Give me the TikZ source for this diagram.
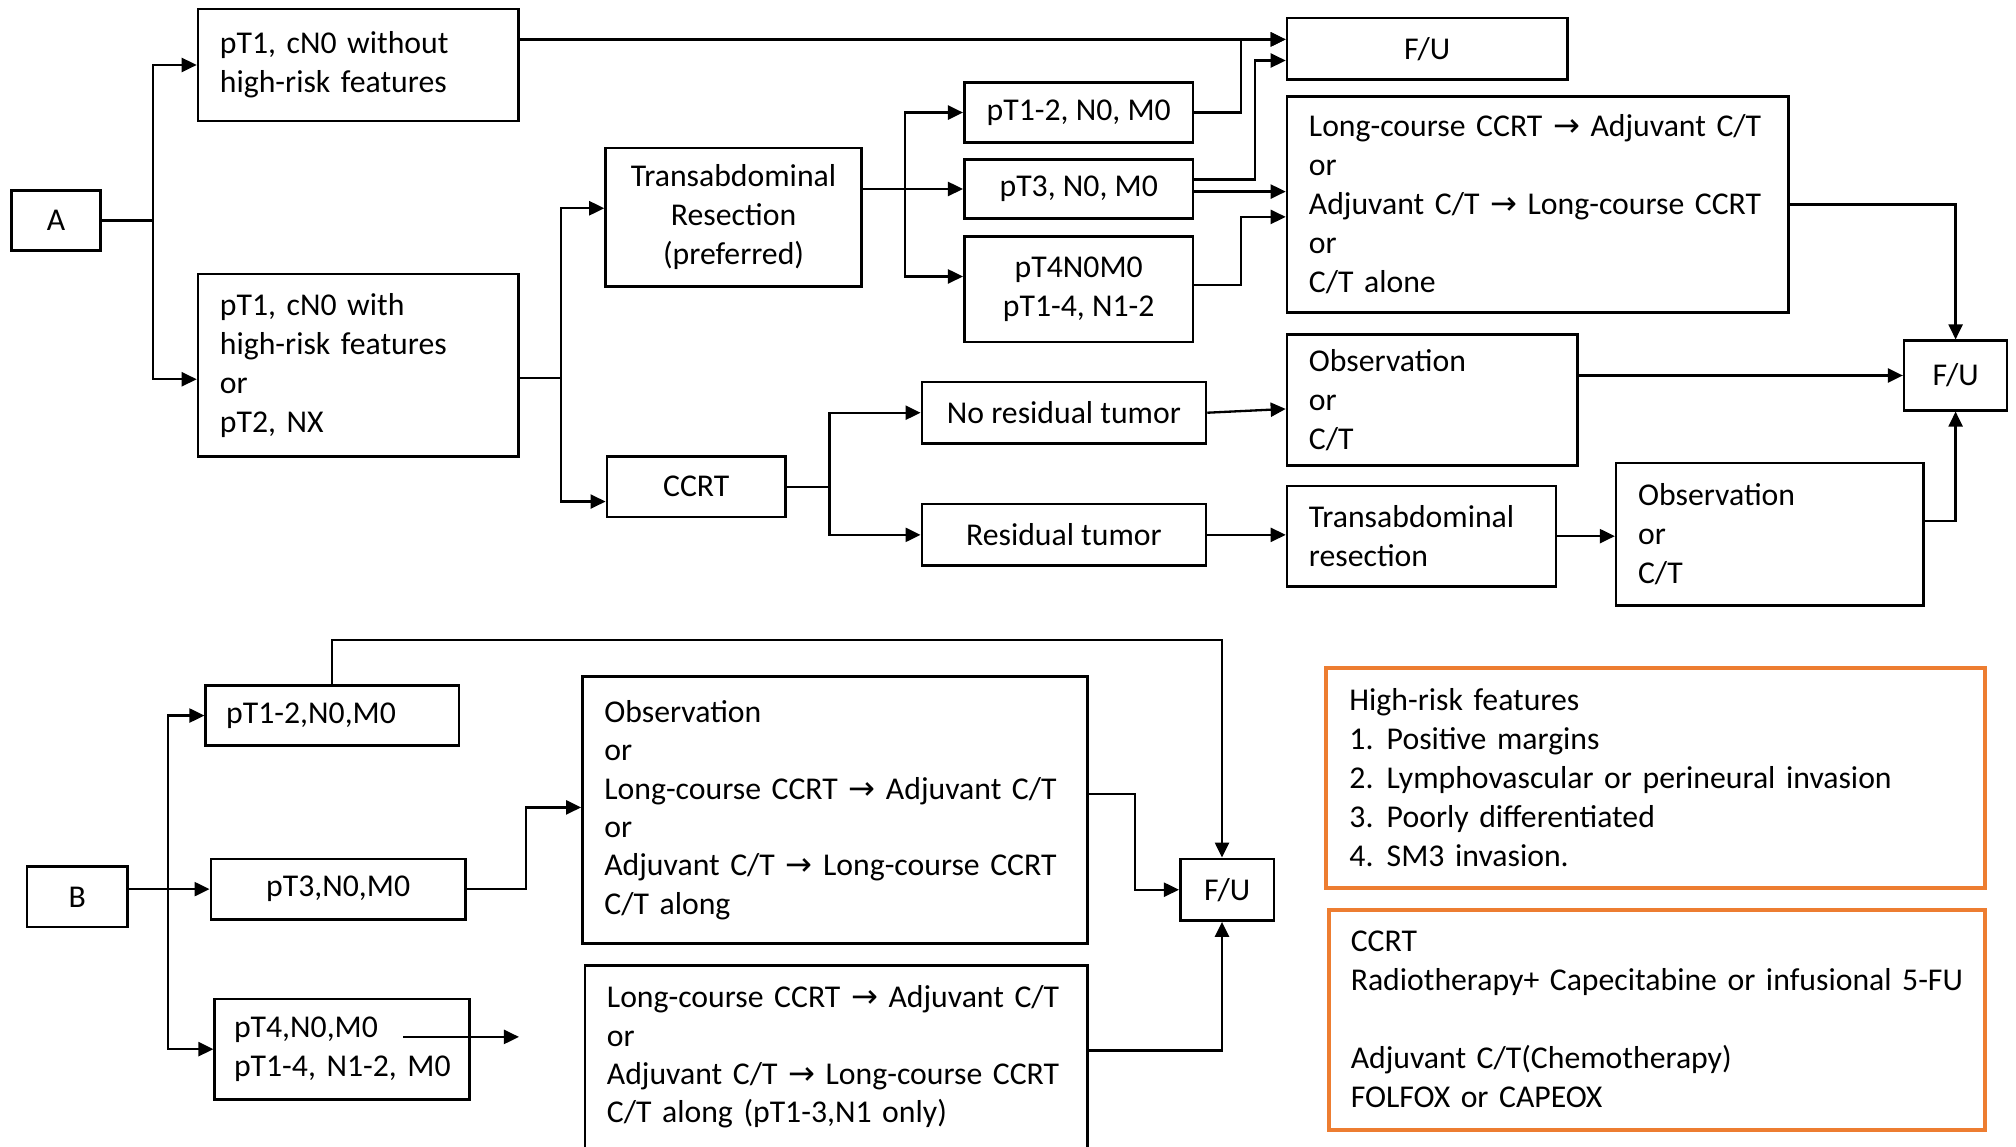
\documentclass[tikz,border=0pt]{standalone}
\usepackage{fontspec}
\setmainfont{Carlito}
\newfontfamily\arrowfont{DejaVu Sans}
\newcommand{\thn}{{\arrowfont\fontsize{16}{16}\selectfont →}}
\usepackage{tikz}
\usetikzlibrary{arrows.meta, positioning}
\definecolor{colorNote}{RGB}{237,125,49}
\tikzset{box font/.style={font=\fontsize{15.8}{19.4}\selectfont}}

\begin{document}
\begin{tikzpicture}[x=0.64pt, y=-0.64pt, line width=1.15pt, >={Triangle[length=7.5pt, width=7pt]},
  box/.style={draw, line width=1.3pt, box font, anchor=north west, inner ysep=0pt, align=center},
  lbox/.style={box, align=left, inner xsep=10.9pt},
  note/.style={lbox, draw=colorNote, line width=2pt}]
\useasboundingbox (0,0) rectangle (1568,892);
\fill[white] (0,0) rectangle (1568,892);

% A
\node[box, minimum width=44.2pt, minimum height=30.1pt] (A) at (8,147) {A};
\node[lbox, text width=137.6pt, minimum height=55.7pt] (p1) at (153,6) {pT1, cN0 without\\high-risk features};
\node[lbox, text width=137.6pt, minimum height=90.9pt] (p2) at (153,212) {pT1, cN0 with\\high-risk features\\or\\pT2, NX};
\node[box, minimum width=127.4pt, minimum height=69.1pt] (tr) at (470,114) {Transabdominal\\Resection\\(preferred)};
\node[box, minimum width=89pt, minimum height=30.1pt] (ccrt) at (471,354) {CCRT};
\node[box, minimum width=113.9pt, minimum height=30.1pt] (s12) at (749,63) {pT1-2, N0, M0};
\node[box, minimum width=113.9pt, minimum height=29.4pt, below=7pt of s12] (s3) {pT3, N0, M0};
\node[box, minimum width=113.9pt, minimum height=52.5pt, below=7.7pt of s3] (s4) {pT4N0M0\\pT1-4, N1-2};
\node[box, minimum width=139.5pt, minimum height=30.7pt] (fu1) at (1000,13) {F/U};
\node[lbox, text width=227.8pt, minimum height=107.5pt] (lc) at (1000,74) {\mbox{Long-course CCRT \thn{} Adjuvant C/T}\\or\\\mbox{Adjuvant C/T \thn{} Long-course CCRT}\\or\\C/T alone};
\node[box, minimum width=141.4pt, minimum height=30.7pt] (nores) at (716,296) {No residual tumor};
\node[box, minimum width=141.4pt, minimum height=30.7pt, below=28.8pt of nores] (res) {Residual tumor};
\node[lbox, text width=122.9pt, minimum height=65.3pt] (obs1) at (1000,259) {Observation\\or\\C/T};
\node[lbox, text width=112pt, minimum height=49.9pt] (trr) at (1000,377) {Transabdominal\\resection};
\node[lbox, text width=131.2pt, minimum height=71pt] (obs2) at (1256,359) {Observation\\or\\C/T};
\node[box, minimum width=51.2pt, minimum height=34.6pt] (fu2) at (1480,264) {F/U};

\draw[->] (A.east) -- ++(40,0) coordinate (f1) |- (p1.west);
\draw[->] (f1) |- ([yshift=-7pt]p2.west);
\coordinate (fuA) at ([yshift=4.7pt]fu1.west);
\draw[->] (p1.east |- fuA) -- (fuA);
\draw ([yshift=-6.4pt]p2.east) -- ++(32,0) coordinate (f2);
\draw[->] (f2) |- ([yshift=4.5pt]tr.west);
\draw[->] (f2) |- ([yshift=-7.4pt]ccrt.west);
\draw[->] (tr.east |- s3.west) -- (s3.west);
\path (tr.east |- s3.west) ++(33,0) coordinate (f3);
\draw[->] (f3) |- (s12.west);
\draw[->] (f3) |- ([yshift=6.4pt]s4.west);
\draw[->] (s12.east) -- ++(36,0) |- (fuA);
\draw[->] ([yshift=4.8pt]s3.east) -- ++(47,0) |- ([yshift=-5.8pt]fu1.west);
\draw[->] ([yshift=-1.3pt]s3.east) -- ([yshift=-1.3pt]s3.east -| lc.west);
\draw[->] ([yshift=2pt]s4.east) -- ++(36,0) |- ([yshift=-6.2pt]lc.west);
\draw[->] (lc.east) -| (fu2.north);
\draw[->] (ccrt.east) -- ++(33,0) coordinate (f4) |- (nores.west);
\draw[->] (f4) |- (res.west);
\draw[->] (nores.east) -- ([yshift=-4.5pt]obs1.west);
\draw[->] (obs1.east |- fu2.west) -- (fu2.west);
\draw[->] (res.east) -- (res.east -| trr.west);
\draw[->] (trr.east) -- (trr.east -| obs2.west);
\draw[->] ([yshift=6.5pt]obs2.east) -| (fu2.south);

% B
\node[box, minimum width=49.9pt, minimum height=30.1pt] (B) at (20,673) {B};
\node[lbox, inner xsep=10.2pt, text width=105.6pt, minimum height=30.1pt] (b12) at (159,532) {pT1-2,N0,M0};
\node[box, minimum width=126.7pt, minimum height=30.1pt] (b3) at (163,667) {pT3,N0,M0};
\node[lbox, inner xsep=9.6pt, text width=107.5pt, minimum height=49.9pt] (b4) at (166,776) {pT4,N0,M0\\\mbox{pT1-4, N1-2, M0}};
\node[lbox, text width=229.7pt, minimum height=133.1pt, font=\fontsize{15.8}{19.1}\selectfont] (bobs) at (452,525) {Observation\\or\\\mbox{Long-course CCRT \thn{} Adjuvant C/T}\\or\\\mbox{Adjuvant C/T \thn{} Long-course CCRT}\\C/T along};
\node[lbox, text width=228.4pt, minimum height=91pt, font=\fontsize{15.8}{19.1}\selectfont] (blc) at (454,750) {\mbox{Long-course CCRT \thn{} Adjuvant C/T}\\or\\\mbox{Adjuvant C/T \thn{} Long-course CCRT}\\C/T along (pT1-3,N1 only)};
\node[box, minimum width=46.7pt, minimum height=30.7pt] (fu3) at (917,667) {F/U};

\draw[->] (B.east |- b3.west) -- (b3.west);
\path (B.east |- b3.west) ++(30.5,0) coordinate (f5);
\draw[->] (f5) |- (b12.west);
\draw[->] (f5) |- (b4.west);
\draw[->] (b12.north) -- ++(0,-34) -| ([xshift=-2.6pt]fu3.north);
\draw[->] (b3.east) -- ++(46,0) |- ([yshift=1.3pt]bobs.west);
\draw[->] ([xshift=-33.5pt, yshift=6.1pt]b4.east) -- ++(90,0);
\draw[->] ([yshift=7.9pt]bobs.east) -- ++(36,0) |- (fu3.west);
\draw[->] ([yshift=3.2pt]blc.east) -| ([xshift=-2.6pt]fu3.south);

% notes
\node[note, inner xsep=11.5pt, text width=304.7pt, minimum height=109.4pt] (hr) at (1030,518) {High-risk features\\\makebox[18.6pt][l]{1.}Positive margins\\\makebox[18.6pt][l]{2.}Lymphovascular or perineural invasion\\\makebox[18.6pt][l]{3.}Poorly differentiated\\\makebox[18.6pt][l]{4.}SM3 invasion.};
\node[note, text width=304.6pt, minimum height=109.4pt] (defs) at (1032,706) {CCRT\\\mbox{Radiotherapy+ Capecitabine or infusional 5-FU}\\[19.4pt]Adjuvant C/T(Chemotherapy)\\FOLFOX or CAPEOX};
\end{tikzpicture}
\end{document}
